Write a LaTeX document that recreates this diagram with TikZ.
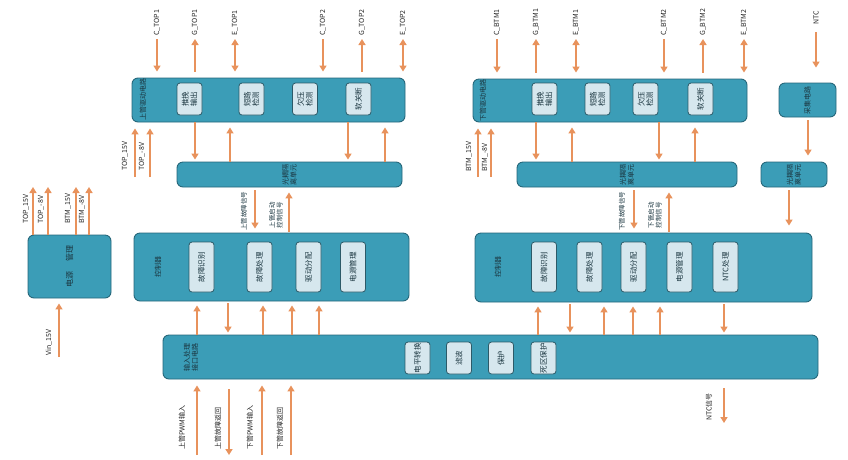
\documentclass[tikz,border=0pt]{standalone}
\usepackage{fontspec}
\setmainfont{Noto Sans CJK SC}
\usepackage{xcolor}
\usepackage{tikz}
\usetikzlibrary{arrows.meta,positioning,fit}
\definecolor{blockfill}{HTML}{3B9DB7}
\definecolor{blockedge}{HTML}{26677A}
\definecolor{unitfill}{HTML}{D6E7EE}
\definecolor{unitedge}{HTML}{2C5A68}
\definecolor{wire}{HTML}{E8925C}
\definecolor{ink}{HTML}{1B3640}

\begin{document}
\begin{tikzpicture}[
    x=1pt, y=-1pt,
    >={Triangle[width=7pt,length=6pt]},
    block/.style={draw=blockedge, fill=blockfill, rounded corners=6pt, line width=0.9pt, inner sep=0pt},
    unit/.style={draw=unitedge, fill=unitfill, rounded corners=3pt, line width=0.8pt, rotate=90, minimum width=32pt, minimum height=25pt, inner sep=1pt, align=center, text=ink, font=\fontsize{7.5}{8.5}\selectfont},
    tag/.style={rotate=90, text=ink, inner sep=1pt, align=center, font=\fontsize{7}{8}\selectfont},
    pin/.style={rotate=90, anchor=west, inner sep=1pt, text=black!85, align=center, font=\fontsize{7}{8}\selectfont},
    arrow/.style={draw=wire, line width=2pt}
]
\useasboundingbox (0,0) rectangle (848,459);

\node[block, fit={(132,78) (405,122)}] (drvtop) {};
\node[block, fit={(473,79) (747,122)}] (drvbtm) {};
\node[block, fit={(779,83) (836,117)}] (acq) {};
\node[block, fit={(177,162) (402,187)}] (opttop) {};
\node[block, fit={(517,162) (737,187)}] (optbtm) {};
\node[block, fit={(761,162) (827,187)}] (optntc) {};
\node[block, fit={(134,233) (409,301)}] (ctrltop) {};
\node[block, fit={(475,233) (812,302)}] (ctrlbtm) {};
\node[block, fit={(163,335) (818,379)}] (intf) {};
\node[block, fit={(28,235) (111,298)}] (power) {};

\node[tag] (drvtoptxt) at (143,99) {上管驱动电路};
\node[tag] (drvbtmtxt) at (483,100) {下管驱动电路};
\node[tag] (acqtxt) at (acq) {采集电路};
\node[tag] (opttoptxt) at (opttop) {光耦隔\\离单元};
\node[tag] (optbtmtxt) at (optbtm) {光耦隔\\离单元};
\node[tag] (optntctxt) at (optntc) {光耦隔\\离单元};
\node[tag] (ctrltoptxt) at (158,267) {控制器};
\node[tag] (ctrlbtmtxt) at (498,267) {控制器};
\node[tag] (intftxt) at (191,357) {输入处理\\接口电路};
\node[tag, font=\fontsize{8}{9}\selectfont] (powertxt) at (power) {电源\hspace{10pt}管理};

\node[unit] (pushtop) at (189.5,99) {推挽\\输出};
\node[unit] (shorttop) at (251.5,99) {短路\\检测};
\node[unit] (uvtop) at (305,99) {欠压\\检测};
\node[unit] (softtop) at (358.5,99) {软关断};
\node[unit] (pushbtm) at (544.5,99) {推挽\\输出};
\node[unit] (shortbtm) at (597.5,99) {短路\\检测};
\node[unit] (uvbtm) at (645.5,99) {欠压\\检测};
\node[unit] (softbtm) at (700.5,99) {软关断};

\node[unit, minimum width=50pt] (idtop) at (201.5,267) {故障识别};
\node[unit, minimum width=50pt] (handtop) at (259.5,267) {故障处理};
\node[unit, minimum width=50pt] (disttop) at (308.5,267) {驱动分配};
\node[unit, minimum width=50pt] (pwrtop) at (353,267) {电源管理};
\node[unit, minimum width=50pt] (idbtm) at (544,267) {故障识别};
\node[unit, minimum width=50pt] (handbtm) at (589.5,267) {故障处理};
\node[unit, minimum width=50pt] (distbtm) at (633.5,267) {驱动分配};
\node[unit, minimum width=50pt] (pwrbtm) at (679.5,267) {电源管理};
\node[unit, minimum width=50pt] (ntcbtm) at (725.5,267) {NTC处理};

\node[unit] (level) at (417.5,358) {电平转换};
\node[unit] (filter) at (459,358) {滤波};
\node[unit] (guard) at (501,358) {保护};
\node[unit] (dead) at (543.5,358) {死区保护};

\node[pin] (ctop1) at (157,37) {C\_TOP1};
\node[pin] (gtop1) at (195,37) {G\_TOP1};
\node[pin] (etop1) at (235,37) {E\_TOP1};
\node[pin] (ctop2) at (323,37) {C\_TOP2};
\node[pin] (gtop2) at (362,37) {G\_TOP2};
\node[pin] (etop2) at (403,37) {E\_TOP2};
\node[pin] (cbtm1) at (497,37) {C\_BTM1};
\node[pin] (gbtm1) at (536,37) {G\_BTM1};
\node[pin] (ebtm1) at (576,37) {E\_BTM1};
\node[pin] (cbtm2) at (664,37) {C\_BTM2};
\node[pin] (gbtm2) at (703,37) {G\_BTM2};
\node[pin] (ebtm2) at (744,37) {E\_BTM2};
\node[pin] (ntc) at (816,26) {NTC};

\draw[arrow, ->, shorten >=6pt, shorten <=2pt] (ctop1) -- (ctop1 |- drvtop.north);
\draw[arrow, <-, shorten >=6pt, shorten <=2pt] (gtop1) -- (gtop1 |- drvtop.north);
\draw[arrow, <->, shorten >=6pt, shorten <=2pt] (etop1) -- (etop1 |- drvtop.north);
\draw[arrow, ->, shorten >=6pt, shorten <=2pt] (ctop2) -- (ctop2 |- drvtop.north);
\draw[arrow, <-, shorten >=6pt, shorten <=2pt] (gtop2) -- (gtop2 |- drvtop.north);
\draw[arrow, <->, shorten >=6pt, shorten <=2pt] (etop2) -- (etop2 |- drvtop.north);
\draw[arrow, ->, shorten >=6pt, shorten <=2pt] (cbtm1) -- (cbtm1 |- drvbtm.north);
\draw[arrow, <-, shorten >=6pt, shorten <=2pt] (gbtm1) -- (gbtm1 |- drvbtm.north);
\draw[arrow, <->, shorten >=6pt, shorten <=2pt] (ebtm1) -- (ebtm1 |- drvbtm.north);
\draw[arrow, ->, shorten >=6pt, shorten <=2pt] (cbtm2) -- (cbtm2 |- drvbtm.north);
\draw[arrow, <-, shorten >=6pt, shorten <=2pt] (gbtm2) -- (gbtm2 |- drvbtm.north);
\draw[arrow, <->, shorten >=6pt, shorten <=2pt] (ebtm2) -- (ebtm2 |- drvbtm.north);
\draw[arrow, ->, shorten >=15pt, shorten <=6pt] (ntc) -- (ntc |- acq.north);

\draw[arrow, ->, shorten >=2pt] (drvtop.south -| 195,0) -- (opttop.north -| 195,0);
\draw[arrow, <-, shorten <=5pt] (drvtop.south -| 230,0) -- (opttop.north -| 230,0);
\draw[arrow, ->, shorten >=2pt] (drvtop.south -| 348,0) -- (opttop.north -| 348,0);
\draw[arrow, <-, shorten <=5pt] (drvtop.south -| 385,0) -- (opttop.north -| 385,0);
\draw[arrow, ->, shorten >=2pt] (drvbtm.south -| 536,0) -- (optbtm.north -| 536,0);
\draw[arrow, <-, shorten <=5pt] (drvbtm.south -| 572,0) -- (optbtm.north -| 572,0);
\draw[arrow, ->, shorten >=2pt] (drvbtm.south -| 659,0) -- (optbtm.north -| 659,0);
\draw[arrow, <-, shorten <=5pt] (drvbtm.south -| 695,0) -- (optbtm.north -| 695,0);
\draw[arrow, ->, shorten >=6pt, shorten <=3pt] (acq.south -| 808,0) -- (optntc.north -| 808,0);

\coordinate (top15) at (135,177);
\coordinate (top8) at (150,177);
\coordinate (btm15) at (478,177);
\coordinate (btm8) at (491,177);
\node[pin] (top15txt) at (125,172) {TOP\_15V};
\node[pin] (top8txt) at (142,172) {TOP\_-8V};
\node[pin] (btm15txt) at (469,173) {BTM\_15V};
\node[pin] (btm8txt) at (485,173) {BTM\_-8V};
\draw[arrow, ->, shorten >=6pt] (top15) -- (top15 |- drvtop.south);
\draw[arrow, ->, shorten >=6pt] (top8) -- (top8 |- drvtop.south);
\draw[arrow, ->, shorten >=6pt] (btm15) -- (btm15 |- drvbtm.south);
\draw[arrow, ->, shorten >=6pt] (btm8) -- (btm8 |- drvbtm.south);

\draw[arrow, ->, shorten >=4pt, shorten <=3pt] (opttop.south -| 255,0) -- (ctrltop.north -| 255,0);
\draw[arrow, <-, shorten >=1pt, shorten <=5pt] (opttop.south -| 289,0) -- (ctrltop.north -| 289,0);
\draw[arrow, ->, shorten >=4pt, shorten <=3pt] (optbtm.south -| 634,0) -- (ctrlbtm.north -| 634,0);
\draw[arrow, <-, shorten >=1pt, shorten <=5pt] (optbtm.south -| 669,0) -- (ctrlbtm.north -| 669,0);
\draw[arrow, ->, shorten >=7pt, shorten <=3pt] (optntc.south -| 789,0) -- (ctrlbtm.north -| 789,0);
\node[tag, font=\fontsize{6.5}{7.5}\selectfont] (faulttop) at (244,211) {上管故障信号};
\node[tag, font=\fontsize{6.5}{7.5}\selectfont] (starttop) at (276,215) {上管启动\\控制信号};
\node[tag, font=\fontsize{6.5}{7.5}\selectfont] (faultbtm) at (622,211) {下管故障信号};
\node[tag, font=\fontsize{6.5}{7.5}\selectfont] (startbtm) at (655,215) {下管启动\\控制信号};

\draw[arrow, <-, shorten <=4pt] (ctrltop.south -| 197,0) -- (intf.north -| 197,0);
\draw[arrow, ->, shorten <=2pt, shorten >=2pt] (ctrltop.south -| 228,0) -- (intf.north -| 228,0);
\draw[arrow, <-, shorten <=4pt] (ctrltop.south -| 263,0) -- (intf.north -| 263,0);
\draw[arrow, <-, shorten <=4pt] (ctrltop.south -| 292,0) -- (intf.north -| 292,0);
\draw[arrow, <-, shorten <=4pt] (ctrltop.south -| 319,0) -- (intf.north -| 319,0);
\draw[arrow, <-, shorten <=4pt] (ctrlbtm.south -| 538,0) -- (intf.north -| 538,0);
\draw[arrow, ->, shorten <=2pt, shorten >=2pt] (ctrlbtm.south -| 570,0) -- (intf.north -| 570,0);
\draw[arrow, <-, shorten <=4pt] (ctrlbtm.south -| 604,0) -- (intf.north -| 604,0);
\draw[arrow, <-, shorten <=4pt] (ctrlbtm.south -| 633,0) -- (intf.north -| 633,0);
\draw[arrow, <-, shorten <=4pt] (ctrlbtm.south -| 660,0) -- (intf.north -| 660,0);
\draw[arrow, ->, shorten <=2pt, shorten >=2pt] (ctrlbtm.south -| 724,0) -- (intf.north -| 724,0);

\coordinate (pwmtop) at (197,455);
\coordinate (rettop) at (229,455);
\coordinate (pwmbtm) at (262,455);
\coordinate (retbtm) at (291,455);
\coordinate (ntcout) at (724,423);
\node[pin] (pwmtoptxt) at (182,451) {上管PWM输入};
\node[pin] (rettoptxt) at (218,451) {上管故障返回};
\node[pin] (pwmbtmtxt) at (250,451) {下管PWM输入};
\node[pin] (retbtmtxt) at (280,451) {下管故障返回};
\node[pin] (ntcouttxt) at (709,422) {NTC信号};
\draw[arrow, ->, shorten >=6pt] (pwmtop) -- (pwmtop |- intf.south);
\draw[arrow, <-, shorten >=10pt] (rettop) -- (rettop |- intf.south);
\draw[arrow, ->, shorten >=6pt] (pwmbtm) -- (pwmbtm |- intf.south);
\draw[arrow, ->, shorten >=6pt] (retbtm) -- (retbtm |- intf.south);
\draw[arrow, <-, shorten >=9pt] (ntcout) -- (ntcout |- intf.south);

\coordinate (ptop15) at (33,187);
\coordinate (ptop8) at (48,187);
\coordinate (pbtm15) at (76,187);
\coordinate (pbtm8) at (89,187);
\coordinate (vin) at (59,357);
\node[pin] (ptop15txt) at (26,225) {TOP\_15V};
\node[pin] (ptop8txt) at (41,225) {TOP\_-8V};
\node[pin] (pbtm15txt) at (68,225) {BTM\_15V};
\node[pin] (pbtm8txt) at (82,225) {BTM\_-8V};
\node[pin] (vintxt) at (49,357) {Vin\_15V};
\draw[arrow, <-] (ptop15) -- (ptop15 |- power.north);
\draw[arrow, <-] (ptop8) -- (ptop8 |- power.north);
\draw[arrow, <-] (pbtm15) -- (pbtm15 |- power.north);
\draw[arrow, <-] (pbtm8) -- (pbtm8 |- power.north);
\draw[arrow, ->, shorten >=5pt] (vin) -- (vin |- power.south);

\end{tikzpicture}
\end{document}
